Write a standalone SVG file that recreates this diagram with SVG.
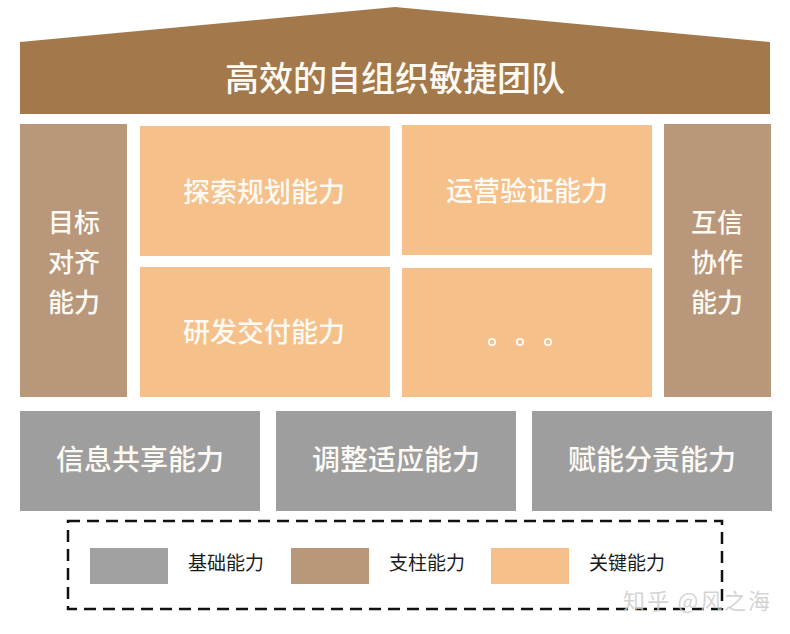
<svg xmlns="http://www.w3.org/2000/svg" width="790" height="634" viewBox="0 0 790 634">
<style>
.t{font-family:"Noto Sans CJK SC","Noto Sans",sans-serif;fill:#fdfaf4;text-anchor:middle;font-weight:500}
.lg{font-family:"Noto Sans CJK SC","Noto Sans",sans-serif;fill:#1a1a1a;font-size:19px}
.key{fill:#F5C089}
.pil{fill:#B8977A}
.base{fill:#9E9E9E}
</style>
<rect width="790" height="634" fill="#ffffff"/>
<g id="roof">
<polygon points="20,42 395,7 770,42 770,114 20,114" fill="#A3784A"/>
<text class="t" x="395" y="91" font-size="34">高效的自组织敏捷团队</text>
</g>
<g id="pillar-left">
<rect class="pil" x="20" y="124" width="107" height="273"/>
<text class="t" x="74" y="232" font-size="26">目标</text>
<text class="t" x="74" y="272" font-size="26">对齐</text>
<text class="t" x="74" y="312" font-size="26">能力</text>
</g>
<g id="pillar-right">
<rect class="pil" x="664" y="124" width="107" height="273"/>
<text class="t" x="717" y="232" font-size="26">互信</text>
<text class="t" x="717" y="272" font-size="26">协作</text>
<text class="t" x="717" y="312" font-size="26">能力</text>
</g>
<g id="key1">
<rect class="key" x="140" y="126" width="250" height="130"/>
<text class="t" x="264" y="202" font-size="27">探索规划能力</text>
</g>
<g id="key2">
<rect class="key" x="402" y="125" width="250" height="130"/>
<text class="t" x="527" y="201" font-size="27">运营验证能力</text>
</g>
<g id="key3">
<rect class="key" x="140" y="267" width="250" height="130"/>
<text class="t" x="264" y="342" font-size="27">研发交付能力</text>
</g>
<g id="key4">
<rect class="key" x="402" y="268" width="250" height="129"/>
<g fill="none" stroke="#fdfaf4" stroke-width="1.7">
<circle cx="492" cy="342" r="3.2"/>
<circle cx="520" cy="342" r="3.2"/>
<circle cx="548" cy="342" r="3.2"/>
</g>
</g>
<g id="base1">
<rect class="base" x="20" y="411" width="240" height="100"/>
<text class="t" x="140" y="470" font-size="28">信息共享能力</text>
</g>
<g id="base2">
<rect class="base" x="276" y="411" width="240" height="100"/>
<text class="t" x="396" y="470" font-size="28">调整适应能力</text>
</g>
<g id="base3">
<rect class="base" x="532" y="411" width="240" height="100"/>
<text class="t" x="652" y="470" font-size="28">赋能分责能力</text>
</g>
<g id="connectors"></g>
<g id="legend">
<rect x="68" y="521" width="654" height="88" fill="none" stroke="#111" stroke-width="2.5" stroke-dasharray="12,7"/>
<rect x="90" y="548" width="78" height="36" fill="#A0A0A0"/>
<text class="lg" x="188" y="570">基础能力</text>
<rect x="291" y="548" width="78" height="36" fill="#B8977A"/>
<text class="lg" x="389" y="570">支柱能力</text>
<rect x="491" y="548" width="78" height="36" fill="#F5C089"/>
<text class="lg" x="589" y="570">关键能力</text>
</g>
<text x="623" y="609" font-family="Noto Sans CJK SC,Noto Sans,sans-serif" font-size="22" fill="#cccccc" fill-opacity="0.85" textLength="147" lengthAdjust="spacing">知乎 @风之海</text>
</svg>
